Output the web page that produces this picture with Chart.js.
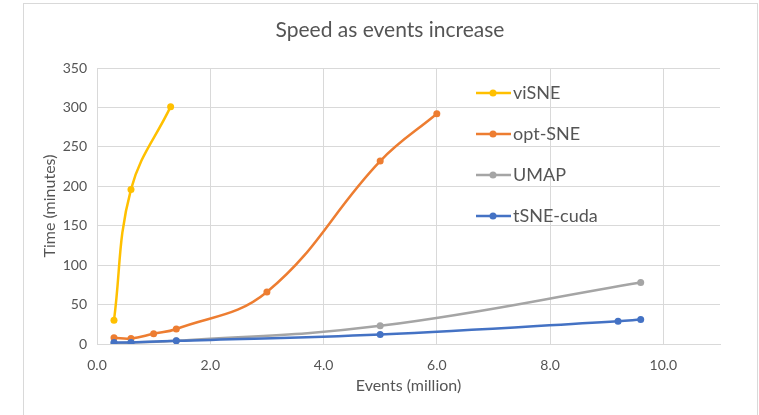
<!DOCTYPE html>
<html>
<head>
<meta charset="utf-8">
<script src="https://cdn.jsdelivr.net/npm/chart.js@4.4.1/dist/chart.umd.min.js"></script>
<style>
    html, body { margin: 0; padding: 0; background: #ffffff; }
    #wrap { position: relative; width: 759px; height: 415px; overflow: hidden; }
    #frame { position: absolute; left: 23px; top: 3px; width: 733px; height: 430px; border: 1px solid #d9d9d9; }
    #speedChart { position: absolute; left: 0; top: 0; }
</style>
</head>
<body>
<div id="wrap">
    <div id="frame"></div>
    <canvas id="speedChart" width="759" height="415"></canvas>
</div>
<script>
// Run time (minutes) against number of events (million)
const chartTitle = 'Speed as events increase';
const seriesNames = ['viSNE', 'opt-SNE', 'UMAP', 'tSNE-cuda'];
const seriesColors = ['#FFC000', '#ED7D31', '#A5A5A5', '#4472C4'];

const visneEvents = [0.3, 0.6, 1.3];
const visneTime = [30, 196, 301];

const optsneEvents = [0.3, 0.6, 1.0, 1.4, 3.0, 5.0, 6.0];
const optsneTime = [8, 7, 13, 19, 66, 232, 292];

const umapEvents = [0.3, 0.6, 1.4, 5.0, 9.6];
const umapTime = [1, 2, 4, 23, 78];

const tsnecudaEvents = [0.3, 0.6, 1.4, 5.0, 9.2, 9.6];
const tsnecudaTime = [2, 2, 4, 12, 29, 31];

const yTicks = [0, 50, 100, 150, 200, 250, 300, 350];
const xTicks = [0, 2, 4, 6, 8, 10];

const textColor = '#555555';
const gridColor = '#d9d9d9';
const fontFamily = 'Lato, "Liberation Sans", sans-serif';

function toPoints(xs, ys) {
    return xs.map((x, i) => ({ x: x, y: ys[i] }));
}

const allPoints = [
    toPoints(visneEvents, visneTime),
    toPoints(optsneEvents, optsneTime),
    toPoints(umapEvents, umapTime),
    toPoints(tsnecudaEvents, tsnecudaTime)
];

// later series sit on top, like the spreadsheet draws them
const datasets = seriesNames.map((name, i) => ({
    label: name,
    data: allPoints[i],
    borderColor: seriesColors[i],
    backgroundColor: seriesColors[i],
    borderWidth: 2.5,
    pointRadius: 3.5,
    pointBorderWidth: 0,
    tension: 0.4,
    order: seriesNames.length - i
}));

// Title centred on the framed box, legend inside the plot on the right
const overlayText = {
    id: 'overlayText',
    afterDraw(chart) {
        const ctx = chart.ctx;
        ctx.save();
        ctx.fillStyle = textColor;
        ctx.font = '21px ' + fontFamily;
        ctx.textAlign = 'center';
        ctx.textBaseline = 'middle';
        ctx.fillText(chartTitle, 390, 30);

        const rows = [93, 134, 175, 216];
        ctx.font = '18px ' + fontFamily;
        ctx.textAlign = 'left';
        seriesNames.forEach((name, i) => {
            const y = rows[i];
            ctx.strokeStyle = seriesColors[i];
            ctx.lineWidth = 2.5;
            ctx.beginPath();
            ctx.moveTo(476, y);
            ctx.lineTo(511, y);
            ctx.stroke();
            ctx.fillStyle = seriesColors[i];
            ctx.beginPath();
            ctx.arc(493, y, 3.5, 0, Math.PI * 2);
            ctx.fill();
            ctx.fillStyle = textColor;
            ctx.fillText(name, 513, y);
        });
        ctx.restore();
    }
};

const ctx = document.getElementById('speedChart').getContext('2d');
new Chart(ctx, {
    type: 'line',
    data: { datasets: datasets },
    plugins: [overlayText],
    options: {
        responsive: false,
        animation: false,
        layout: { padding: { left: 38, right: 39, top: 68, bottom: 15 } },
        plugins: {
            legend: { display: false },
            tooltip: { enabled: false },
            title: { display: false }
        },
        scales: {
            x: {
                type: 'linear',
                min: 0,
                max: 11,
                afterBuildTicks: axis => {
                    axis.ticks = xTicks.map(v => ({ value: v }));
                },
                afterFit: scale => { scale.height = 56; },
                grid: { color: gridColor, drawTicks: false },
                border: { color: gridColor },
                ticks: {
                    color: textColor,
                    padding: 13,
                    font: { family: fontFamily, size: 14 },
                    callback: v => v.toFixed(1)
                },
                title: {
                    display: true,
                    text: 'Events (million)',
                    color: textColor,
                    font: { family: fontFamily, size: 16 },
                    padding: { top: 0, bottom: 5 }
                }
            },
            y: {
                min: 0,
                max: 350,
                afterBuildTicks: axis => {
                    axis.ticks = yTicks.map(v => ({ value: v }));
                },
                afterFit: scale => { scale.width = 59; },
                grid: { color: gridColor, drawTicks: false },
                border: { color: gridColor },
                ticks: {
                    color: textColor,
                    padding: 10,
                    font: { family: fontFamily, size: 14 }
                },
                title: {
                    display: true,
                    text: 'Time (minutes)',
                    color: textColor,
                    font: { family: fontFamily, size: 16 },
                    padding: { top: 2, bottom: 0 }
                }
            }
        }
    }
});
</script>
</body>
</html>
